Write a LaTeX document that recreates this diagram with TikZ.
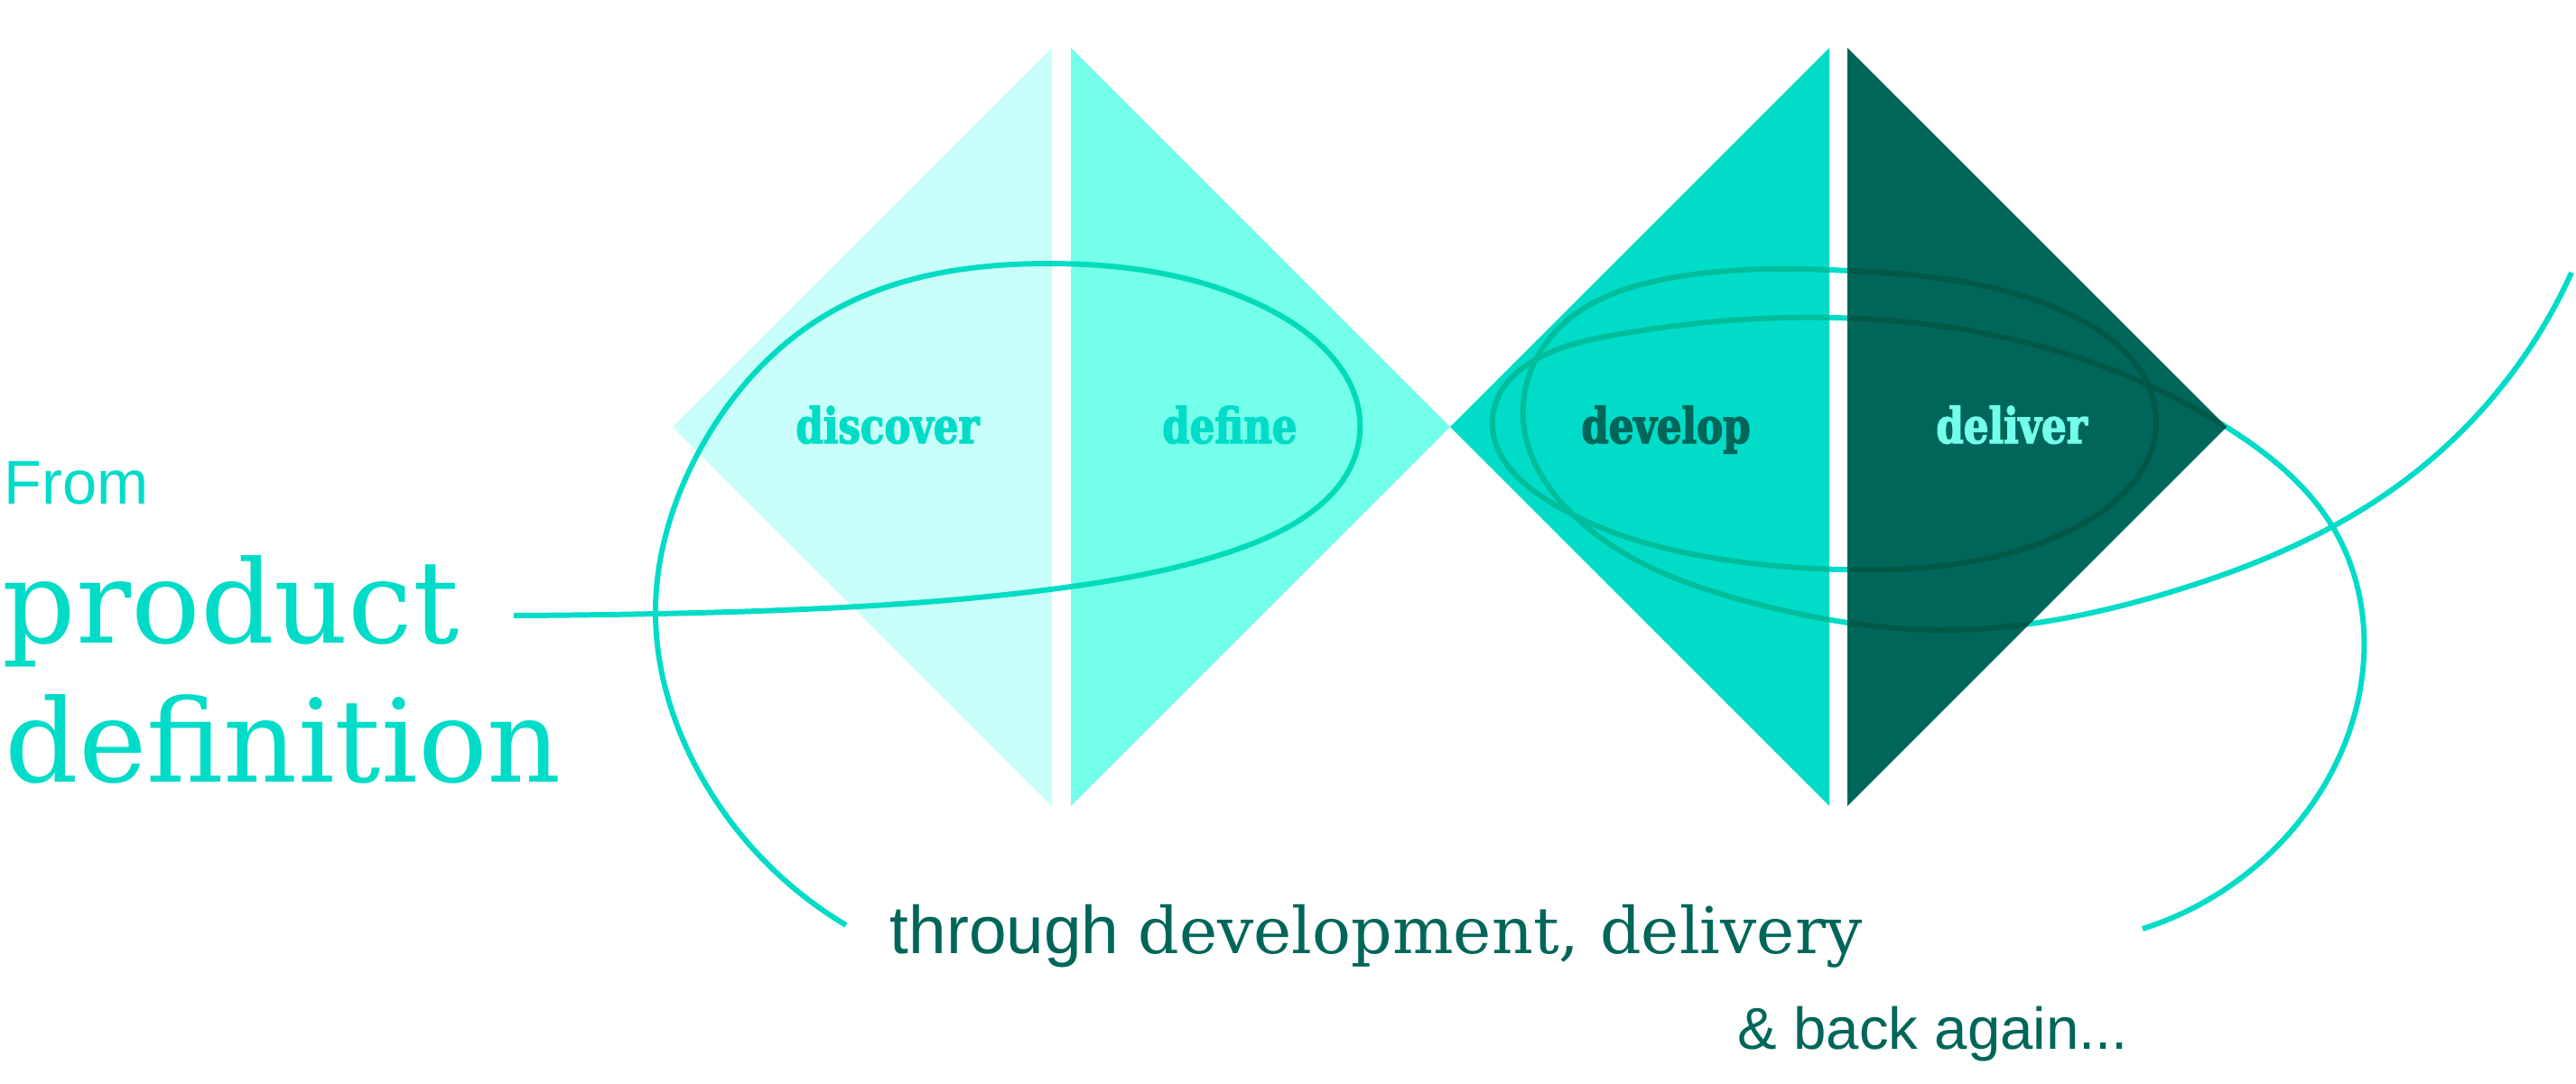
\documentclass[tikz,border=0pt]{standalone}
\usepackage{fontspec}
\setmainfont{DejaVu Serif}
\newfontfamily\slabfont{DejaVu Serif}[FakeStretch=0.8, BoldFeatures={FakeBold=2.4}]
\setsansfont{Liberation Sans}
\usetikzlibrary{positioning,hobby}
\definecolor{paleMint}{HTML}{C9FFFA}
\definecolor{aquaMint}{HTML}{74FFEA}
\definecolor{turq}{HTML}{00DCC8}
\definecolor{darkTeal}{HTML}{00665A}

\begin{document}
\begin{tikzpicture}[x=1cm,y=-1cm]
	\tikzset{phase/.style={anchor=base, inner sep=0, font=\slabfont\bfseries\fontsize{15.5}{16}\selectfont},
		bigSerif/.style={anchor=base west, inner sep=0, text=turq, font=\fontsize{36.3}{40}\selectfont},
		smallSans/.style={anchor=base west, inner sep=0, font=\sffamily\fontsize{19.5}{22}\selectfont},
		loopLine/.style={draw=turq, line width=1.7pt, use Hobby shortcut}}
	\useasboundingbox (0,0) rectangle (28.53,12);
	
	% the four half diamonds
	\foreach \edge/\tip/\col in {11.65/7.45/paleMint, 11.86/16.06/aquaMint, 20.26/16.06/turq, 20.46/24.66/darkTeal}
		\fill[\col] (\edge,0.53) -- (\tip,4.73) -- (\edge,8.93) -- cycle;
	
	% phase names
	\foreach \name/\x/\col in {discover/9.83/turq, define/13.62/turq, develop/18.45/darkTeal, deliver/22.28/aquaMint}
		\node[phase, text=\col] (\name) at (\x,4.91) {\name};
	
	% left texts
	\node[smallSans, text=turq] (from) at (0.04,5.58) {From};
	\node[bigSerif] (product) at (0.02,7.12) {product};
	\node[bigSerif] (definition) at (0.05,8.66) {definition};
	
	% bottom texts
	\node[smallSans, text=darkTeal, font=\sffamily\fontsize{21.3}{24}\selectfont] (through) at (9.85,10.56)
		{through \rmfamily\fontsize{20.3}{24}\selectfont development, delivery};
	\node[smallSans, text=darkTeal, font=\sffamily\fontsize{18.6}{22}\selectfont] (back) at (19.24,11.62) {\& back again...};
	
	% the loops, multiplied over the diamonds
	\begin{scope}[blend mode=multiply]
	\draw[loopLine] (5.69,6.82) .. (7.27,6.80) .. (9.50,6.72) .. (11.71,6.52) .. (13.80,6.05) .. (15.06,4.80)
		.. (14.08,3.44) .. (11.63,2.92) .. (9.18,3.47) .. (7.71,5.06) .. (7.26,6.75) .. (7.71,8.50) .. (9.37,10.25);
	\draw[loopLine] (23.73,10.29) .. (25.32,9.27) .. (26.18,7.28) .. (25.86,5.88) .. (24.64,4.72) .. (22.61,3.84)
		.. (20.31,3.52) .. (17.73,3.74) .. (16.53,4.65) .. (17.15,5.55) .. (19.16,6.21) .. (20.37,6.31)
		.. (22.90,5.89) .. (23.88,4.65) .. (22.90,3.47) .. (20.49,3.00) .. (18.40,3.10) .. (17.30,3.60)
		.. (16.87,4.65) .. (17.44,5.72) .. (19.45,6.69) .. (21.46,6.98) .. (24.07,6.55) .. (26.57,5.37) .. (28.48,3.02);
	\end{scope}
\end{tikzpicture}
\end{document}
